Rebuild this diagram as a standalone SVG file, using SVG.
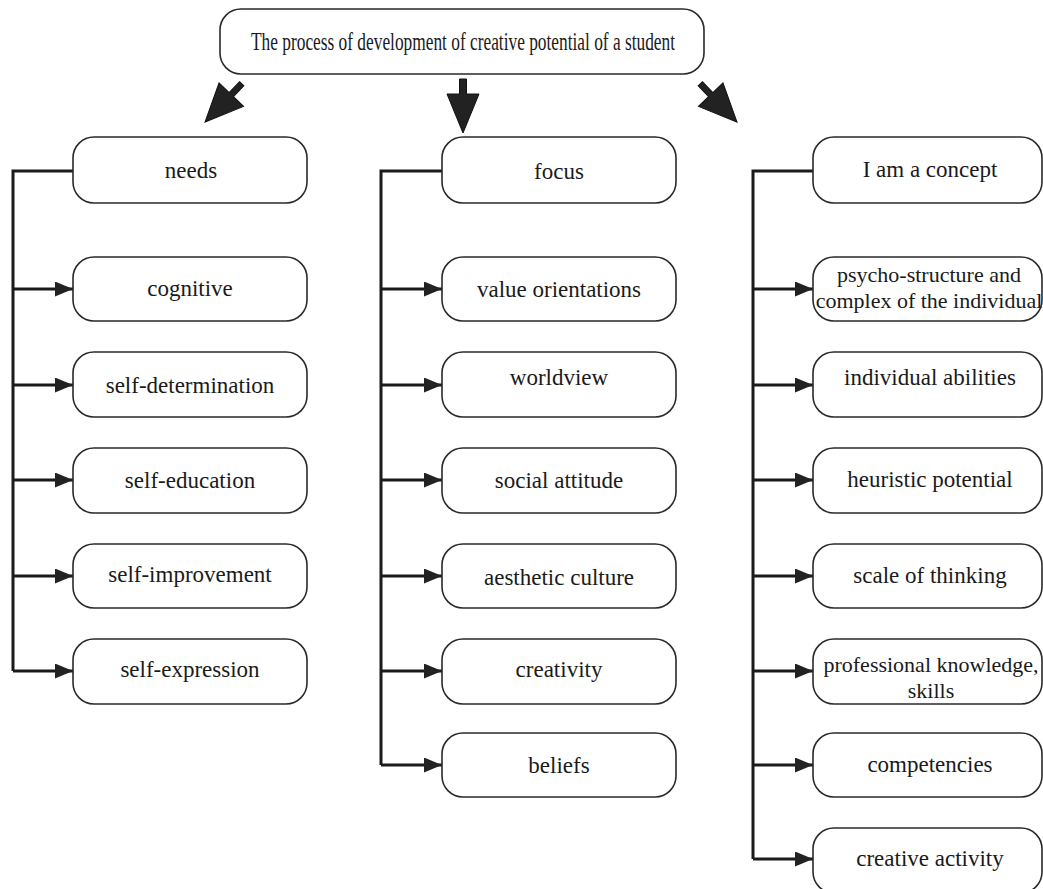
<svg xmlns="http://www.w3.org/2000/svg" width="1043" height="889" viewBox="0 0 1043 889">
<defs>
<style>
.box{fill:#fff;stroke:#2a2a2a;stroke-width:1.6}
.t{font-family:"Liberation Serif","Times New Roman",serif;font-size:23px;fill:#1a1a1a;text-anchor:middle}
.t2{font-family:"Liberation Serif","Times New Roman",serif;font-size:22px;fill:#1a1a1a;text-anchor:middle}
.tt{font-family:"Liberation Serif","Times New Roman",serif;font-size:25px;fill:#1a1a1a;text-anchor:middle}
.ln{fill:none;stroke:#1a1a1a;stroke-width:3}
.big{fill:#222;stroke:#111;stroke-width:1}
</style>
<marker id="ah" markerUnits="userSpaceOnUse" markerWidth="19" markerHeight="16" refX="18" refY="7.5" orient="auto">
<path d="M0,0 L18,7.5 L0,15 z" fill="#222"/>
</marker>
</defs>
<rect width="1043" height="889" fill="#fff"/>

<g id="connectors">
<!-- top arrows -->
<path class="big" d="M459.5,79 L466.5,79 L466.5,94 L479,94 L463,133 L447,94 L459.5,94 z"/>
<g transform="translate(205,122) rotate(43.8)">
<path class="big" d="M-3,-53 L3,-53 L3,-38 L17,-38 L0,0 L-17,-38 L-3,-38 z"/>
</g>
<g transform="translate(737,122) rotate(-43.8)">
<path class="big" d="M-3,-53 L3,-53 L3,-38 L17,-38 L0,0 L-17,-38 L-3,-38 z"/>
</g>
<!-- left trunk -->
<path class="ln" d="M73,171 L13,171 L13,671"/>
<line class="ln" x1="13" y1="289" x2="73" y2="289" marker-end="url(#ah)"/>
<line class="ln" x1="13" y1="385" x2="73" y2="385" marker-end="url(#ah)"/>
<line class="ln" x1="13" y1="480" x2="73" y2="480" marker-end="url(#ah)"/>
<line class="ln" x1="13" y1="576" x2="73" y2="576" marker-end="url(#ah)"/>
<line class="ln" x1="13" y1="671" x2="73" y2="671" marker-end="url(#ah)"/>
<!-- middle trunk -->
<path class="ln" d="M442,171 L381,171 L381,765"/>
<line class="ln" x1="381" y1="289" x2="442" y2="289" marker-end="url(#ah)"/>
<line class="ln" x1="381" y1="385" x2="442" y2="385" marker-end="url(#ah)"/>
<line class="ln" x1="381" y1="480" x2="442" y2="480" marker-end="url(#ah)"/>
<line class="ln" x1="381" y1="576" x2="442" y2="576" marker-end="url(#ah)"/>
<line class="ln" x1="381" y1="671" x2="442" y2="671" marker-end="url(#ah)"/>
<line class="ln" x1="381" y1="765" x2="442" y2="765" marker-end="url(#ah)"/>
<!-- right trunk -->
<path class="ln" d="M813,171 L753,171 L753,859"/>
<line class="ln" x1="753" y1="289" x2="813" y2="289" marker-end="url(#ah)"/>
<line class="ln" x1="753" y1="385" x2="813" y2="385" marker-end="url(#ah)"/>
<line class="ln" x1="753" y1="480" x2="813" y2="480" marker-end="url(#ah)"/>
<line class="ln" x1="753" y1="576" x2="813" y2="576" marker-end="url(#ah)"/>
<line class="ln" x1="753" y1="671" x2="813" y2="671" marker-end="url(#ah)"/>
<line class="ln" x1="753" y1="765" x2="813" y2="765" marker-end="url(#ah)"/>
<line class="ln" x1="753" y1="859" x2="813" y2="859" marker-end="url(#ah)"/>
</g>

<g id="root"><rect class="box" x="220" y="9" width="484" height="65" rx="21"/><text class="tt" x="463" y="50" textLength="424" lengthAdjust="spacingAndGlyphs">The process of development of creative potential of a student</text></g>

<g id="needs"><rect class="box" x="73" y="137" width="234" height="66" rx="21"/><text class="t" x="191" y="178">needs</text></g>
<g id="cognitive"><rect class="box" x="73" y="257" width="234" height="64" rx="21"/><text class="t" x="190" y="296">cognitive</text></g>
<g id="self-determination"><rect class="box" x="73" y="352" width="234" height="65" rx="21"/><text class="t" x="190" y="393">self-determination</text></g>
<g id="self-education"><rect class="box" x="73" y="448" width="234" height="65" rx="21"/><text class="t" x="190" y="488">self-education</text></g>
<g id="self-improvement"><rect class="box" x="73" y="544" width="234" height="64" rx="21"/><text class="t" x="190" y="582">self-improvement</text></g>
<g id="self-expression"><rect class="box" x="73" y="639" width="234" height="65" rx="21"/><text class="t" x="190" y="677">self-expression</text></g>

<g id="focus"><rect class="box" x="442" y="137" width="234" height="66" rx="21"/><text class="t" x="559" y="179">focus</text></g>
<g id="value-orientations"><rect class="box" x="442" y="257" width="234" height="64" rx="21"/><text class="t" x="559" y="297">value orientations</text></g>
<g id="worldview"><rect class="box" x="442" y="352" width="234" height="65" rx="21"/><text class="t" x="559" y="385">worldview</text></g>
<g id="social-attitude"><rect class="box" x="442" y="448" width="234" height="65" rx="21"/><text class="t" x="559" y="488">social attitude</text></g>
<g id="aesthetic-culture"><rect class="box" x="442" y="544" width="234" height="64" rx="21"/><text class="t" x="559" y="585">aesthetic culture</text></g>
<g id="creativity"><rect class="box" x="442" y="639" width="234" height="65" rx="21"/><text class="t" x="559" y="677">creativity</text></g>
<g id="beliefs"><rect class="box" x="442" y="733" width="234" height="64" rx="21"/><text class="t" x="559" y="773">beliefs</text></g>

<g id="i-am-a-concept"><rect class="box" x="813" y="137" width="229" height="66" rx="21"/><text class="t" x="930" y="177">I am a concept</text></g>
<g id="psycho-structure"><rect class="box" x="813" y="257" width="229" height="64" rx="21"/><text class="t2" x="929" y="282">psycho-structure and</text><text class="t2" x="929" y="308">complex of the individual</text></g>
<g id="individual-abilities"><rect class="box" x="813" y="352" width="229" height="65" rx="21"/><text class="t" x="930" y="385">individual abilities</text></g>
<g id="heuristic-potential"><rect class="box" x="813" y="448" width="229" height="65" rx="21"/><text class="t" x="930" y="487">heuristic potential</text></g>
<g id="scale-of-thinking"><rect class="box" x="813" y="544" width="229" height="64" rx="21"/><text class="t" x="930" y="583">scale of thinking</text></g>
<g id="professional-knowledge"><rect class="box" x="813" y="639" width="229" height="65" rx="21"/><text class="t2" x="931" y="672">professional knowledge,</text><text class="t2" x="931" y="698">skills</text></g>
<g id="competencies"><rect class="box" x="813" y="733" width="229" height="64" rx="21"/><text class="t" x="930" y="772">competencies</text></g>
<g id="creative-activity"><rect class="box" x="813" y="828" width="229" height="65" rx="21"/><text class="t" x="930" y="866">creative activity</text></g>
</svg>
